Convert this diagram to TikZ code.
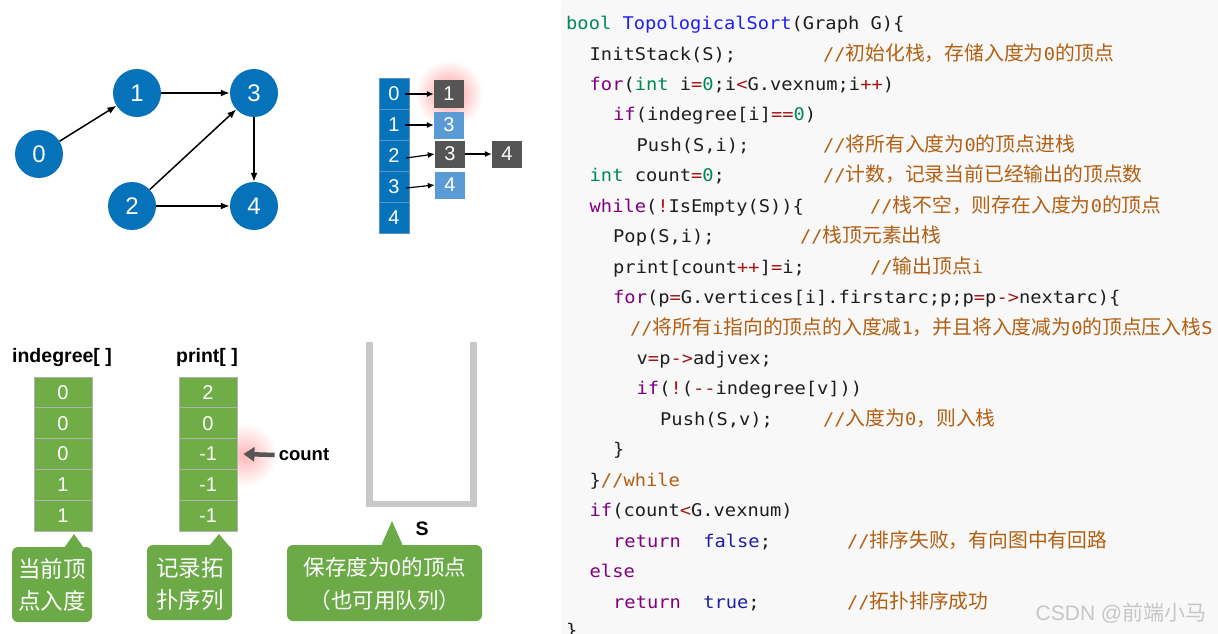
\documentclass[tikz,border=0pt]{standalone}
\usepackage{fontspec}
\setmainfont{Liberation Sans}
\setmonofont[FakeStretch=1.07]{DejaVu Sans Mono}
\newfontfamily\cjk{Noto Sans CJK SC}
\usetikzlibrary{arrows.meta}
\definecolor{gblue}{RGB}{5,114,186}
\definecolor{sepblue}{RGB}{90,150,205}
\definecolor{lblue}{RGB}{91,155,213}
\definecolor{dgray}{RGB}{85,85,85}
\definecolor{agreen}{RGB}{112,173,71}
\definecolor{cgreen}{RGB}{108,170,72}
\definecolor{sgray}{RGB}{200,200,200}
\definecolor{panel}{RGB}{248,248,248}
\definecolor{kwc}{RGB}{128,0,128}
\definecolor{tyc}{RGB}{0,136,85}
\definecolor{opc}{RGB}{165,20,20}
\definecolor{fnc}{RGB}{30,30,245}
\definecolor{blc}{RGB}{30,30,160}
\definecolor{cmc}{RGB}{178,95,18}
\definecolor{txc}{RGB}{30,30,30}
\newcommand\cK[1]{\textcolor{kwc}{#1}}
\newcommand\cT[1]{\textcolor{tyc}{#1}}
\newcommand\cO[1]{\textcolor{opc}{#1}}
\newcommand\cF[1]{\textcolor{fnc}{#1}}
\newcommand\cB[1]{\textcolor{blc}{#1}}
\newcommand\cC[1]{\textcolor{cmc}{#1}}
\newcommand\zh[1]{{\cjk\fontsize{19.8}{20}\selectfont #1}}
\tikzset{
  gnode/.style={circle, fill=gblue, minimum size=48pt, inner sep=0pt, text=white, font=\fontsize{24}{26}\selectfont},
  garrow/.style={line width=1.5pt, -{Latex[length=9pt,width=7pt]}},
  colcell/.style={rectangle, fill=gblue, draw=sepblue, line width=0.8pt, minimum width=30pt, minimum height=31pt, inner sep=0pt, text=white, font=\fontsize{20}{22}\selectfont},
  lnode/.style={rectangle, minimum width=30pt, minimum height=27pt, inner sep=0pt, text=white, font=\fontsize{20}{22}\selectfont},
  larrow/.style={line width=1.2pt, -{Latex[length=7pt,width=6pt]}},
  acell/.style={rectangle, fill=agreen, draw=gray!60, line width=0.8pt, minimum width=58pt, minimum height=30.8pt, inner sep=0pt, text=white, font=\fontsize{20}{22}\selectfont},
  lbl/.style={inner sep=0pt, font=\bfseries\fontsize{19.5}{21}\selectfont},
  ctext/.style={inner sep=0pt, align=center, text=white, font=\cjk\fontsize{22.5}{32}\selectfont},
  cntarrow/.style={draw=dgray, line width=4.5pt, -{Triangle[length=11pt,width=14pt]}},
  code/.style={anchor=base west, inner sep=0pt, text=txc, font=\ttfamily\fontsize{17.5}{20}\selectfont},
  cmt/.style={code, text=cmc},
}
\begin{document}
\begin{tikzpicture}[x=1pt,y=-1pt]
\useasboundingbox (0,0) rectangle (1218,634);
\fill[white] (0,0) rectangle (561,634);
\fill[panel] (561,0) rectangle (1218,634);
% glows
\shade[inner color=red!40, outer color=white] (449,94) circle (34);
\shade[inner color=red!28, outer color=white] (245,455) circle (32);
% graph
\node[gnode] (n0) at (39,154) {0};
\node[gnode] (n1) at (137,93) {1};
\node[gnode] (n3) at (254,93) {3};
\node[gnode] (n2) at (132,206) {2};
\node[gnode] (n4) at (254,206) {4};
\draw[garrow] (n0) -- (n1);
\draw[garrow] (n1) -- (n3);
\draw[garrow] (n2) -- (n3);
\draw[garrow] (n2) -- (n4);
\draw[garrow] (n3) -- (n4);
% adjacency list
\node[colcell] (c0) at (394,94) {0};
\node[colcell] (c1) at (394,125) {1};
\node[colcell] (c2) at (394,156) {2};
\node[colcell] (c3) at (394,187) {3};
\node[colcell] (c4) at (394,218) {4};
\node[lnode, fill=dgray] (l0) at (449,94) {1};
\node[lnode, fill=lblue] (l1) at (449,125) {3};
\node[lnode, fill=dgray] (l2) at (450,154) {3};
\node[lnode, fill=dgray] (l2b) at (507,154) {4};
\node[lnode, fill=lblue] (l3) at (450,185) {4};
\draw[larrow] ([xshift=11pt]c0.center) -- (l0.west);
\draw[larrow] ([xshift=11pt]c1.center) -- (l1.west);
\draw[larrow] ([xshift=12pt,yshift=-2pt]c2.center) -- (l2.west);
\draw[larrow] (l2.east) -- (l2b.west);
\draw[larrow] ([xshift=12pt,yshift=-1pt]c3.center) -- (l3.west);
% arrays
\node[lbl] (tin) at (62,357) {indegree[ ]};
\node[lbl] (tpr) at (207,357) {print[ ]};
\node[acell] (d0) at (63,392.4) {0};
\node[acell] (d1) at (63,423.2) {0};
\node[acell] (d2) at (63,454) {0};
\node[acell] (d3) at (63,484.8) {1};
\node[acell] (d4) at (63,515.6) {1};
\node[acell] (p0) at (208,392.4) {2};
\node[acell] (p1) at (208,423.2) {0};
\node[acell] (p2) at (208,454) {-1};
\node[acell] (p3) at (208,484.8) {-1};
\node[acell] (p4) at (208,515.6) {-1};
\node[lbl, font=\bfseries\fontsize{18.5}{20}\selectfont] (cnt) at (304,455) {count};
\draw[cntarrow] ([xshift=-4pt]cnt.west) -- ([xshift=6pt]p2.east);
% stack
\fill[sgray] (366,342) rectangle (373,507);
\fill[sgray] (470,342) rectangle (477,507);
\fill[sgray] (373,501) rectangle (470,507);
\node[lbl, font=\bfseries\fontsize{19.5}{20}\selectfont] (S) at (422,529) {S};
% callouts
\fill[cgreen, rounded corners=6pt] (12,547) rectangle (92,622);
\fill[cgreen] (64,548) -- (74,534) -- (84,548) -- cycle;
\node[ctext] (t1) at (52,585) {当前顶\\点入度};
\fill[cgreen, rounded corners=6pt] (147,545) rectangle (232,620);
\fill[cgreen] (209,546) -- (219,534) -- (229,546) -- cycle;
\node[ctext] (t2) at (190,584) {记录拓\\扑序列};
\fill[cgreen, rounded corners=6pt] (287,545) rectangle (482,621);
\fill[cgreen] (381,546) -- (392,521) -- (403,546) -- cycle;
\node[ctext, font=\cjk\fontsize{21.5}{33}\selectfont] (t3) at (385,583.5) {保存度为0的顶点\\（也可用队列）};
% code
\node[code] (L1) at (566,29.5) {\cT{bool} \cF{TopologicalSort}(Graph G)\{};
\node[code] (L2) at (589.5,60) {InitStack(S);};
\node[cmt] (C2) at (823,60) {//\zh{初始化栈，存储入度为}0\zh{的顶点}};
\node[code] (L3) at (589.5,90.4) {\cK{for}(\cT{int} i\cO{=}\cT{0};i\cO{<}G.vexnum;i\cO{++})};
\node[code] (L4) at (613,120.9) {\cK{if}(indegree[i]\cO{==}\cT{0})};
\node[code] (L5) at (636.5,151.3) {Push(S,i);};
\node[cmt] (C5) at (823,151.3) {//\zh{将所有入度为}0\zh{的顶点进栈}};
\node[code] (L6) at (589.5,181.8) {\cT{int} count\cO{=}\cT{0};};
\node[cmt] (C6) at (823,181.8) {//\zh{计数，记录当前已经输出的顶点数}};
\node[code] (L7) at (589.5,212.2) {\cK{while}(\cO{!}IsEmpty(S))\{};
\node[cmt] (C7) at (870,212.2) {//\zh{栈不空，则存在入度为}0\zh{的顶点}};
\node[code] (L8) at (613,242.7) {Pop(S,i);};
\node[cmt] (C8) at (800,242.7) {//\zh{栈顶元素出栈}};
\node[code] (L9) at (613,273.1) {print[count\cO{++}]\cO{=}i;};
\node[cmt] (C9) at (870,273.1) {//\zh{输出顶点}i};
\node[code] (L10) at (613,303.6) {\cK{for}(p\cO{=}G.vertices[i].firstarc;p;p\cO{=}p\cO{->}nextarc)\{};
\node[cmt] (C11) at (630,334) {//\zh{将所有}i\zh{指向的顶点的入度减}1\zh{，并且将入度减为}0\zh{的顶点压入栈}S};
\node[code] (L12) at (636.5,364.5) {v\cO{=}p\cO{->}adjvex;};
\node[code] (L13) at (636.5,394.9) {\cK{if}(\cO{!}(\cO{--}indegree[v]))};
\node[code] (L14) at (660,425.4) {Push(S,v);};
\node[cmt] (C14) at (823,425.4) {//\zh{入度为}0\zh{，则入栈}};
\node[code] (L15) at (613,455.8) {\}};
\node[code] (L16) at (589.5,486.3) {\}\cC{//while}};
\node[code] (L17) at (589.5,516.7) {\cK{if}(count\cO{<}G.vexnum)};
\node[code] (L18) at (613,547.2) {\cK{return}~~\cB{false};};
\node[cmt] (C18) at (847,547.2) {//\zh{排序失败，有向图中有回路}};
\node[code] (L19) at (589.5,577.6) {\cK{else}};
\node[code] (L20) at (613,608) {\cK{return}~~\cB{true};};
\node[cmt] (C20) at (847,608) {//\zh{拓扑排序成功}};
\node[code] (L21) at (566,636) {\}};
% watermark
\node[inner sep=0pt, text=gray!45, font=\fontsize{21}{22}\selectfont] (wm) at (1121,613) {CSDN @\cjk 前端小马};
\end{tikzpicture}
\end{document}
